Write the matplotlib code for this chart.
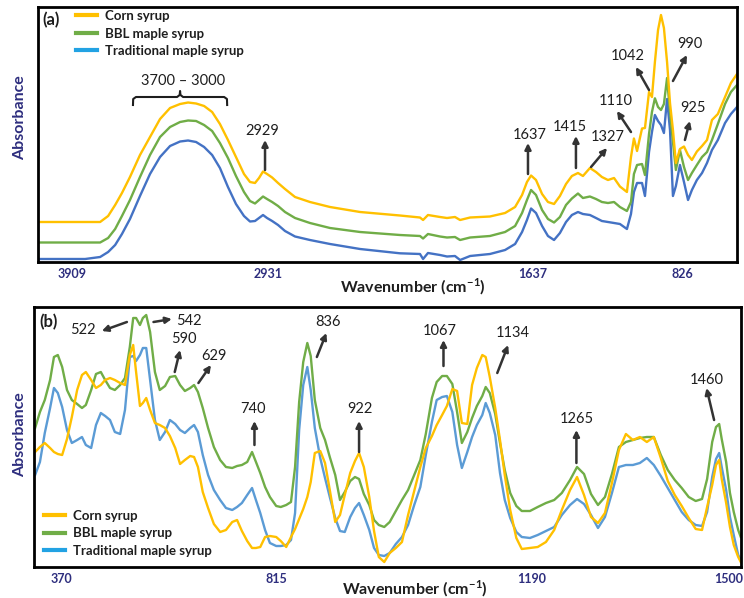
import numpy as np
import matplotlib
matplotlib.use("Agg")
import matplotlib.pyplot as plt
from matplotlib.lines import Line2D

plt.rcParams['font.family'] = ['Lato', 'DejaVu Sans']
plt.rcParams['mathtext.fontset'] = 'custom'
plt.rcParams['mathtext.rm'] = 'Lato'
plt.rcParams['mathtext.bf'] = 'Lato:bold'

# ---------------- data : panel (a) ----------------
series_names = ["Corn syrup", "BBL maple syrup", "Traditional maple syrup"]

wn_a = [4079, 3969, 3844, 3769, 3729, 3694, 3660, 3620, 3570, 3520,
        3470, 3420, 3370, 3330, 3290, 3250, 3210, 3171, 3131, 3091,
        3051, 3021, 2996, 2976, 2956, 2936, 2911, 2882, 2848, 2799,
        2726, 2628, 2481, 2286, 2188, 2173, 2149, 2090, 2056, 2017,
        1992, 1943, 1846, 1772, 1723, 1689, 1665, 1645, 1619, 1586,
        1554, 1521, 1489, 1456, 1424, 1391, 1364, 1326, 1293, 1261,
        1228, 1195, 1163, 1125, 1103, 1087, 1070, 1043, 1027, 1005,
        989, 973, 956, 940, 924, 907, 891, 875, 859, 837,
        815, 793, 772, 745, 717, 690, 663, 631, 592, 560, 527]

corn_a = [40, 40, 40, 40, 46, 57, 69, 85, 107, 125,
          143, 154, 158, 159.5, 158.5, 156, 150, 138, 122, 105,
          88, 80, 79, 84, 90.5, 88, 84.5, 79, 73, 65,
          60, 55, 50, 46.5, 44.5, 42, 47, 45, 44, 45,
          42, 44.5, 45.5, 49, 55, 67, 80, 86.5, 82, 68,
          60, 58, 66, 78, 86, 89, 86, 94, 90, 85,
          82, 84, 75.5, 70, 105, 123.5, 111, 133.5, 134, 170,
          165, 200, 232, 247, 234, 200, 159, 132, 99, 113,
          115.5, 107, 102, 110.5, 116, 122, 142, 148, 165, 179, 188]

bbl_a = [19.5, 19.5, 19.5, 19.5, 24, 33, 46, 62, 85, 107,
         125, 135, 140, 141.5, 141, 137, 131, 119, 104, 86,
         70, 61, 58.5, 62, 65.5, 63, 60, 56, 50, 44,
         39, 34, 30, 27, 26, 23.5, 28, 25.5, 24.5, 25,
         22, 24.5, 26, 30, 36, 49, 62, 72, 67, 52,
         43, 39.5, 45, 57, 63.5, 68.5, 64, 65.5, 63, 60,
         59, 60, 55, 51, 60, 88, 97, 98, 87, 128,
         150, 163.7, 155, 152, 158, 184, 150, 120, 92, 112,
         95, 82, 89, 97, 105, 110, 122, 138, 158, 170, 177]

trad_a = [3, 3, 3, 5, 10, 17, 28, 43, 66, 88,
          105, 116, 120.5, 121.5, 120, 115, 107, 94, 75, 58,
          46, 40.5, 41, 44, 47, 44, 41, 37, 31, 25.5,
          22, 18, 13, 8.7, 8, 3, 9, 7, 5.5, 6,
          2, 6, 8, 12, 18, 30, 42, 53.5, 49, 36,
          26, 22, 29, 40, 47, 50, 48, 47, 44, 41,
          40, 39, 38, 33, 48, 70, 79, 79, 66, 110,
          130, 147, 141, 137, 129, 163, 132, 66, 76, 97,
          80, 62, 72, 82, 89, 99, 112, 122, 139, 148, 155]

ticks_a = [3909, 2931, 1637, 826]

# ---------------- data : panel (b) ----------------
wn_b = [315, 325, 335, 346, 354, 362, 371, 381, 391, 402,
        412, 420, 431, 441, 451, 460, 470, 480, 491, 501,
        511, 518, 524, 532, 538, 545, 553, 563, 573, 584,
        594, 605, 615, 625, 636, 644, 652, 662, 673, 685,
        698, 710, 723, 733, 743, 754, 764, 772, 781, 791,
        801, 814, 821, 829, 836, 842, 848, 854, 860, 865,
        871, 879, 886, 893, 901, 908, 915, 923, 930, 936,
        943, 951, 958, 965, 973, 981, 990, 999, 1008, 1017,
        1026, 1034, 1043, 1050, 1058, 1065, 1073, 1080, 1087, 1095,
        1102, 1109, 1117, 1122, 1128, 1136, 1143, 1150, 1158, 1167,
        1175, 1187, 1199, 1212, 1225, 1237, 1250, 1261, 1272, 1283,
        1294, 1305, 1316, 1327, 1338, 1349, 1360, 1371, 1382, 1393,
        1404, 1415, 1426, 1437, 1448, 1458, 1466, 1474, 1480, 1485,
        1489, 1496, 1502, 1508, 1515, 1519]

corn_b = [115, 120, 124, 119, 115, 113, 112, 128, 150, 177,
          192, 195, 187, 179, 182, 187, 189, 187, 184, 182,
          212, 222, 195, 161, 164, 169, 157, 144, 142, 139,
          131, 119, 103, 107, 111, 110, 100, 75, 59, 43,
          35, 37, 45, 47, 36, 26, 19, 19, 20, 30,
          31, 30, 26, 20, 30, 38, 48, 58, 70, 85,
          114, 116, 104, 77, 45, 52, 72, 94, 106, 114,
          100, 70, 36, 10, 5, 14, 19, 25, 52, 76,
          100, 119, 131, 142, 152, 161, 178, 176, 144, 143,
          182, 199, 212, 210, 190, 159, 127, 92, 57, 29,
          18, 19, 20, 25, 37, 57, 77, 90, 72, 50,
          44, 54, 84, 117, 133, 127, 130, 125, 130, 109,
          86, 72, 61, 49, 38, 37, 60, 82, 102, 107,
          88, 64, 40, 22, 10, 5]

bbl_b = [139, 155, 167, 187, 210, 212, 200, 177, 167, 163,
         159, 162, 177, 193, 195, 187, 179, 177, 182, 189,
         220, 249, 249, 242, 249, 252, 235, 195, 177, 181,
         190, 191, 182, 176, 179, 182, 175, 159, 139, 120,
         107, 100, 99, 101, 102, 105, 115, 105, 94, 80,
         70, 61, 60, 62, 65, 100, 165, 205, 224, 211,
         167, 139, 127, 110, 92, 67, 75, 86, 90, 88,
         73, 62, 47, 42, 40, 45, 56, 67, 77, 92,
         107, 133, 169, 185, 191, 191, 183, 155, 124, 135,
         149, 161, 171, 180, 174, 153, 124, 97, 74, 61,
         56, 56, 60, 64, 67, 74, 87, 100, 93, 73,
         62, 70, 93, 120, 125, 127, 129, 130, 130, 112,
         97, 87, 79, 70, 66, 68, 88, 125, 140, 143,
         128, 105, 74, 55, 37, 30]

trad_b = [92, 105, 134, 159, 179, 174, 160, 137, 124, 127,
          130, 122, 119, 142, 154, 151, 147, 135, 133, 157,
          210, 211, 206, 212, 219, 219, 187, 147, 127, 135,
          147, 143, 137, 134, 139, 142, 135, 112, 92, 77,
          67, 59, 57, 60, 64, 72, 79, 67, 54, 37,
          24, 21, 21, 22, 27, 54, 137, 182, 200, 177,
          139, 109, 89, 70, 49, 36, 35, 50, 59, 64,
          52, 37, 19, 12, 11, 14, 23, 30, 42, 62,
          80, 112, 145, 167, 170, 171, 155, 122, 99, 115,
          130, 142, 152, 164, 154, 132, 94, 67, 49, 35,
          30, 29, 32, 36, 40, 52, 62, 68, 63, 52,
          39, 50, 74, 100, 102, 102, 104, 109, 102, 91,
          79, 67, 55, 47, 42, 41, 55, 90, 108, 114,
          100, 77, 50, 32, 12, 7]

ticks_b = [370, 815, 1190, 1500]

# peak annotations: (label, text x, text y, arrow tail x, tail y, head x, head y)
ann_a = [("2929", 2961, 131, 2946, 92, 2946, 122),
         ("1637", 1652, 127.5, 1660, 88, 1660, 119),
         ("1415", 1434, 135, 1402, 94, 1402, 126),
         ("1327", 1228, 125, 1320, 95, 1233, 114),
         ("1110", 1185, 161.5, 1103, 130, 1179, 151),
         ("1042", 1122, 206, 1005, 172, 1076, 195),
         ("990", 785, 218, 875, 181, 799, 207),
         ("925", 764, 154.5, 810, 122, 783, 141)]

ann_b = [("522", 415, 237, 505, 245, 453, 236),
         ("542", 633, 246, 560, 245, 598, 248),
         ("590", 623, 228, 604, 195, 615, 217),
         ("629", 685, 211, 653, 184, 679, 202),
         ("740", 766, 158, 769, 122, 769, 146),
         ("836", 890, 245, 874, 210, 888, 234),
         ("922", 938, 158, 936, 115, 936, 146),
         ("1067", 1055, 236, 1060, 201, 1060, 227),
         ("1134", 1162, 234, 1139, 194, 1155, 222),
         ("1265", 1261, 148, 1260, 104, 1260, 137),
         ("1460", 1465, 187, 1477, 147, 1465, 179)]

# ---------------- styling ----------------
fig = plt.figure(figsize=(7.44, 5.98), dpi=100)
W, H = 744.0, 598.0
navy = "#2E2E7E"
ink = "#1E1E1E"
arrow_c = "#333333"
legend_cols = ["#FFC000", "#70AD47", "#22A2E3"]
cols_a = ["#FFC000", "#70AD47", "#4472C4"]
cols_b = ["#FFC000", "#70AD47", "#5B9BD5"]

# non-uniform axis break layout (tick label placement along each axis)
breaks_a = ([3909, 2931, 1637, 826], [72, 268, 532.7, 682])
breaks_b = ([370, 815, 1190, 1500], [61.7, 276.7, 532, 728.7])


def piecewise(x, xp, fp):
    x = np.asarray(x, dtype=float)
    xp = np.asarray(xp, dtype=float)
    fp = np.asarray(fp, dtype=float)
    order = np.argsort(xp)
    xp, fp = xp[order], fp[order]
    y = np.interp(x, xp, fp)
    s0 = (fp[1] - fp[0]) / (xp[1] - xp[0])
    s1 = (fp[-1] - fp[-2]) / (xp[-1] - xp[-2])
    y = np.where(x < xp[0], fp[0] + (x - xp[0]) * s0, y)
    y = np.where(x > xp[-1], fp[-1] + (x - xp[-1]) * s1, y)
    return y


def make_funcs(br):
    w, p = np.asarray(br[0], float), np.asarray(br[1], float)
    # keep the forward transform increasing in wavenumber
    sgn = 1.0 if (p[-1] - p[0]) * (w[-1] - w[0]) > 0 else -1.0
    ps = sgn * p
    return (lambda x: piecewise(x, w, ps), lambda q: piecewise(q, ps, w))


def style_axes(ax, br, ticks, xlim, ylim):
    ax.set_xscale('function', functions=make_funcs(br))
    ax.set_xlim(*xlim)
    ax.set_ylim(*ylim)
    ax.set_yticks([])
    ax.set_xticks(ticks)
    ax.set_xticklabels([str(t) for t in ticks], fontweight='bold',
                       color=navy, fontsize=9)
    ax.tick_params(axis='x', length=0, pad=4)
    ax.minorticks_off()
    for s in ax.spines.values():
        s.set_linewidth(2.0)
        s.set_color('black')


def annotate(ax, items):
    for lab, tx, ty, ax0, ay0, ax1, ay1 in items:
        ax.annotate('', xy=(ax1, ay1), xytext=(ax0, ay0),
                    arrowprops=dict(arrowstyle='-|>', lw=1.8, color=arrow_c,
                                    mutation_scale=9, shrinkA=0, shrinkB=0))
        ax.text(tx, ty, lab, ha='center', va='center', fontsize=10.5,
                color=ink)


def add_legend(ax, anchor, loc):
    handles = [Line2D([], [], color=c, lw=3) for c in legend_cols]
    leg = ax.legend(handles, series_names, loc=loc,
                    bbox_to_anchor=anchor, bbox_transform=fig.transFigure,
                    frameon=False, borderpad=0, borderaxespad=0,
                    handlelength=1.6, handletextpad=0.6, labelspacing=0.42,
                    prop={'weight': 'bold', 'size': 9.5})
    for t in leg.get_texts():
        t.set_color(ink)
    return leg


# ---------- panel (a) ----------
axA = fig.add_axes([38 / W, 336 / H, 699 / W, 255 / H])
style_axes(axA, breaks_a, ticks_a, (4079, 527), (0, 255))
for ys, c in zip([trad_a, bbl_a, corn_a], cols_a[::-1]):
    axA.plot(wn_a, ys, color=c, lw=1.7, solid_joinstyle='round')
annotate(axA, ann_a)
# bracket over the 3700-3000 band
br_x = [3605, 3604, 3590, 3385, 3372, 3370, 3368, 3355, 3150, 3136, 3135]
br_y = [157, 163, 165, 165, 167, 171, 167, 165, 165, 163, 157]
axA.plot(br_x, br_y, color=ink, lw=1.5)
axA.text(3355, 181, "3700 \u2013 3000", ha='center', va='center',
         fontsize=10.5, color=ink)
axA.text(42 / W, 1 - 20 / H, "(a)", transform=fig.transFigure, fontsize=12,
         fontweight='bold', color=ink, ha='left', va='center')
add_legend(axA, (76 / W, 1 - 10 / H), 'upper left')

# ---------- panel (b) ----------
axB = fig.add_axes([34 / W, 31 / H, 707 / W, 260 / H])
style_axes(axB, breaks_b, ticks_b, (312.7, 1519.4), (0, 260))
for ys, c in zip([trad_b, bbl_b, corn_b], cols_b[::-1]):
    axB.plot(wn_b, ys, color=c, lw=1.7, solid_joinstyle='round')
annotate(axB, ann_b)
axB.text(39 / W, 1 - 322 / H, "(b)", transform=fig.transFigure, fontsize=12,
         fontweight='bold', color=ink, ha='left', va='center')
add_legend(axB, (44 / W, 1 - 557 / H), 'lower left')

# ---------- axis titles ----------
xlabel = r"Wavenumber (cm$^{\mathbf{-1}}$)"
fig.text(413 / W, 1 - 287 / H, xlabel, ha='center', va='center',
         fontsize=11.5, fontweight='bold', color=ink)
fig.text(415 / W, 1 - 589 / H, xlabel, ha='center', va='center',
         fontsize=11.5, fontweight='bold', color=ink)
fig.text(20 / W, 1 - 118 / H, "Absorbance", rotation=90, ha='center',
         va='center', fontsize=11.5, fontweight='bold', color=navy)
fig.text(20 / W, 1 - 435 / H, "Absorbance", rotation=90, ha='center',
         va='center', fontsize=11.5, fontweight='bold', color=navy)

fig.savefig("out.png", dpi=100)
